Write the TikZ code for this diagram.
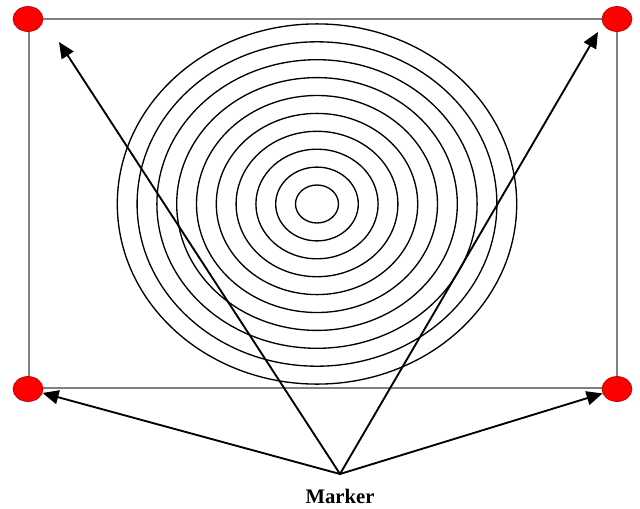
\documentclass[tikz,border=0pt]{standalone}
\usepackage{fontspec}
\setmainfont{Liberation Serif}
\usetikzlibrary{shapes.geometric,arrows.meta}
\begin{document}
\begin{tikzpicture}[x=0.75pt,y=-0.75pt,
  markerdot/.style={ellipse,draw=red!70!black,line width=0.5pt,fill=red,minimum width=22.5pt,minimum height=18.75pt,inner sep=0pt},
  frame/.style={draw=gray,line width=0.8pt},
  ring/.style={draw=black,line width=1pt},
  pointer/.style={draw=black,line width=1.4pt,-{Triangle[length=12pt,width=10.5pt]}}]
\useasboundingbox (0,0) rectangle (640,508);
\draw[frame] (29,19) rectangle (617,388);
\foreach \i in {0,...,9}{
  \draw[ring] (317,204) ellipse [x radius={(21.5+19.8*\i)*0.75pt}, y radius={(19+17.9*\i)*0.75pt}];
}
\node[markerdot] (tl) at (28,19) {};
\node[markerdot] (tr) at (617,19) {};
\node[markerdot] (bl) at (28,389) {};
\node[markerdot] (br) at (617,389) {};
\coordinate (apex) at (340,474);
\coordinate (tlend) at (59,42);
\coordinate (trend) at (598,32);
\node[font=\bfseries\fontsize{15.5pt}{17pt}\selectfont] (label) at (340,496) {Marker};
\draw[pointer] (apex) -- (tlend);
\draw[pointer] (apex) -- (trend);
\draw[pointer] (apex) -- (bl);
\draw[pointer] (apex) -- (br);
\end{tikzpicture}
\end{document}
